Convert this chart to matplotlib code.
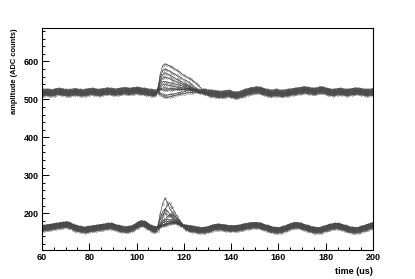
import numpy as np
import matplotlib
matplotlib.use("Agg")
import matplotlib.pyplot as plt
from matplotlib.ticker import MultipleLocator, FixedLocator

# ---------------- data ----------------
t_start, t_end = 60, 200          # time axis, 1 us samples
pulse_start = 106                 # first sample of the pulse window

# upper channel baseline (ADC counts), t = 60 .. 200
upper_base = [
    517, 518, 519, 518, 517, 518, 520, 521, 520, 519,
    518, 517, 518, 519, 520, 519, 518, 517, 518, 519,
    520, 521, 520, 519, 518, 519, 520, 521, 522, 521,
    520, 519, 520, 521, 522, 523, 522, 521, 522, 523,
    524, 523, 522, 521, 520, 519, 518, 517, 517, 518,
    518, 517, 516, 516, 517, 517, 518, 518, 519, 519,
    519, 520, 520, 519, 518, 518, 517, 517, 518, 518,
    517, 516, 516, 515, 514, 513, 513, 514, 515, 516,
    514, 512, 511, 512, 514, 516, 518, 520, 522, 523,
    524, 525, 524, 522, 520, 518, 517, 516, 517, 518,
    517, 516, 516, 517, 518, 519, 520, 521, 522, 523,
    524, 525, 524, 523, 522, 521, 522, 524, 525, 524,
    522, 520, 519, 518, 519, 520, 521, 520, 519, 518,
    519, 520, 521, 522, 521, 520, 519, 518, 518, 519,
    520,
]

# lower channel baseline (ADC counts), t = 60 .. 200
lower_base = [
    160, 161, 162, 163, 164, 165, 166, 167, 168, 169,
    170, 169, 167, 164, 161, 160, 158, 157, 156, 157,
    158, 159, 160, 161, 162, 163, 164, 165, 166, 166,
    165, 163, 161, 159, 158, 157, 157, 158, 160, 163,
    167, 171, 173, 172, 169, 165, 161, 158, 157, 158,
    160, 162, 164, 166, 168, 169, 169, 168, 166, 164,
    162, 161, 160, 159, 158, 157, 156, 155, 155, 156,
    157, 159, 161, 163, 164, 164, 163, 162, 161, 160,
    160, 160, 160, 161, 162, 164, 165, 166, 167, 168,
    168, 168, 167, 165, 163, 161, 159, 157, 156, 155,
    155, 156, 158, 160, 163, 165, 167, 168, 168, 167,
    165, 163, 161, 159, 157, 156, 155, 155, 156, 158,
    160, 162, 164, 165, 166, 166, 165, 163, 161, 159,
    157, 156, 155, 155, 156, 158, 160, 162, 164, 166,
    168,
]

# per-trace offsets from the baseline
upper_offsets = [-8, -6, -4, -2, -1, 1, 2, 4, 6, 8]
lower_offsets = [-7, -5, -3, -2, 0, 1, 3, 4, 6, 7]

# pulse deviations, t = 106 .. 133 (28 samples)
upper_pulses = [
    [0, 0, 2, 20, 55, 80, 85, 83, 79, 75, 71, 67, 62, 57, 52, 48, 45, 42, 38, 33, 28, 22, 15, 9, 4, 1, 0, 0],
    [0, 0, 1, 15, 45, 65, 70, 67, 63, 59, 55, 51, 47, 43, 39, 35, 31, 27, 23, 18, 13, 8, 4, 1, 0, 0, 0, 0],
    [0, 0, 0, 10, 35, 52, 58, 55, 51, 47, 43, 39, 35, 31, 27, 24, 21, 18, 15, 12, 9, 6, 3, 1, 0, 0, 0, 0],
    [0, 0, 0, 8, 28, 40, 45, 43, 40, 36, 33, 30, 27, 24, 21, 19, 17, 14, 12, 10, 8, 5, 3, 1, 0, 0, 0, 0],
    [0, 0, 0, 5, 20, 30, 32, 30, 28, 26, 24, 22, 20, 18, 16, 14, 12, 10, 8, 6, 4, 2, 1, 0, 0, 0, 0, 0],
    [0, 0, 0, 3, 12, 20, 22, 21, 19, 17, 15, 13, 12, 11, 10, 9, 8, 7, 6, 5, 4, 3, 2, 1, 0, 0, 0, 0],
    [0, 0, 0, 2, 7, 11, 12, 11, 10, 9, 8, 7, 6, 5, 5, 4, 4, 3, 3, 2, 2, 1, 1, 0, 0, 0, 0, 0],
    [0, 0, -2, -6, -10, -13, -15, -15, -14, -13, -12, -11, -10, -9, -8, -7, -6, -5, -4, -3, -2, -1, 0, 0, 0, 0, 0, 0],
    [0, 0, -1, -4, -8, -10, -11, -11, -10, -10, -9, -8, -7, -6, -5, -4, -3, -2, -1, 0, 0, 0, 0, 0, 0, 0, 0, 0],
    [0] * 28,
]

lower_pulses = [
    [0, 0, 0, 15, 45, 70, 82, 70, 52, 40, 32, 25, 20, 14, 8, 3, 0, 0, 0, 0, 0, 0, 0, 0, 0, 0, 0, 0],
    [0, 0, 0, 0, 10, 30, 50, 60, 63, 52, 40, 30, 22, 15, 8, 3, 0, 0, 0, 0, 0, 0, 0, 0, 0, 0, 0, 0],
    [0, 0, 0, 10, 30, 45, 50, 42, 33, 26, 20, 15, 10, 6, 3, 1, 0, 0, 0, 0, 0, 0, 0, 0, 0, 0, 0, 0],
    [0, 0, 0, 8, 25, 36, 38, 32, 26, 21, 17, 13, 9, 6, 3, 1, 0, 0, 0, 0, 0, 0, 0, 0, 0, 0, 0, 0],
    [0, 0, 0, 0, 5, 12, 18, 24, 27, 28, 24, 18, 13, 9, 5, 2, 0, 0, 0, 0, 0, 0, 0, 0, 0, 0, 0, 0],
    [0, 0, 0, 4, 12, 17, 18, 16, 14, 12, 10, 8, 6, 4, 2, 1, 0, 0, 0, 0, 0, 0, 0, 0, 0, 0, 0, 0],
    [0, 0, 0, 2, 6, 9, 10, 9, 8, 7, 6, 5, 4, 3, 2, 1, 0, 0, 0, 0, 0, 0, 0, 0, 0, 0, 0, 0],
    [0] * 28,
    [0] * 28,
    [0] * 28,
]

x_ticks = [60, 80, 100, 120, 140, 160, 180, 200]
y_ticks = [200, 300, 400, 500, 600]
x_label = "time (us)"
y_label = "amplitude (ADC counts)"

# ---------------- figure ----------------
plt.rcParams['font.family'] = ['Liberation Sans', 'DejaVu Sans']
fig = plt.figure(figsize=(4.15, 2.79), dpi=100)
ax = fig.add_axes([42 / 415, 1 - 250 / 279, 331 / 415, 222 / 279])

time_us = np.arange(t_start, t_end + 1)
i0 = pulse_start - t_start


def draw(base, offsets, pulses):
    for off, pulse in zip(offsets, pulses):
        y = np.array(base, dtype=float) + off
        y[i0:i0 + len(pulse)] += np.array(pulse, dtype=float)
        ax.plot(time_us, y, color='0.2', lw=0.45, marker='o', ms=1.3,
                mfc='none', mec='0.3', mew=0.3)


draw(upper_base, upper_offsets, upper_pulses)
draw(lower_base, lower_offsets, lower_pulses)

ax.set_xlim(60, 200)
ax.set_ylim(103, 688)
ax.xaxis.set_major_locator(FixedLocator(x_ticks))
ax.yaxis.set_major_locator(FixedLocator(y_ticks))
ax.xaxis.set_minor_locator(MultipleLocator(5))
ax.yaxis.set_minor_locator(MultipleLocator(20))
ax.tick_params(which='both', direction='in', top=False, right=False,
               width=0.7, colors='black', labelsize=6.5, pad=2.5)
ax.tick_params(which='major', length=5)
ax.tick_params(which='minor', length=2.5)
for lbl in ax.get_xticklabels() + ax.get_yticklabels():
    lbl.set_fontweight('bold')
for s in ax.spines.values():
    s.set_linewidth(0.8)

fig.text(373 / 415, 1 - 271 / 279, x_label, ha='right', va='center',
         fontsize=6.5, fontweight='bold')
fig.text(15 / 415, 1 - 28 / 279, y_label, ha='center', va='top',
         rotation=90, fontsize=5.4, fontweight='bold')

fig.savefig("out.png", dpi=100, facecolor='white')
